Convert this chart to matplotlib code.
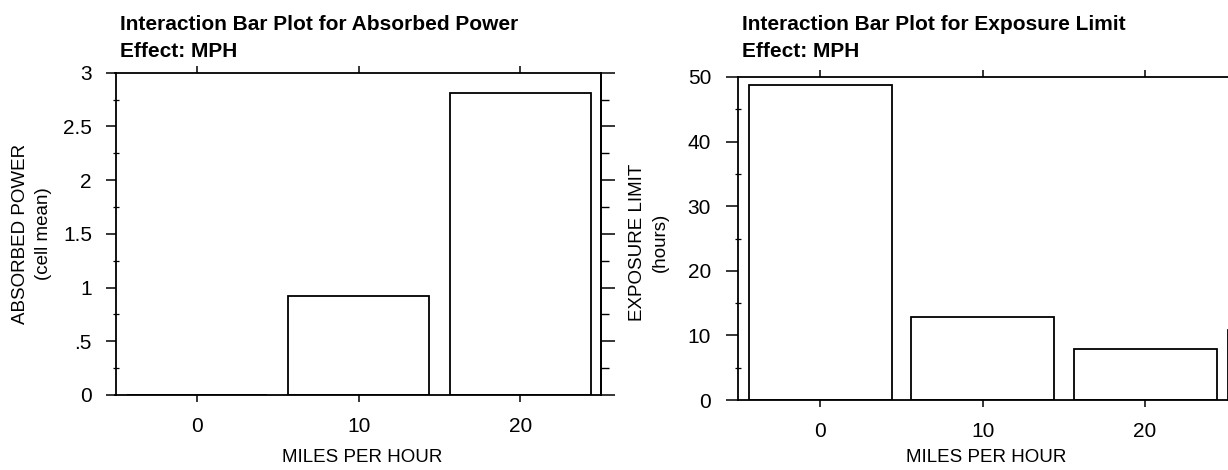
import matplotlib
matplotlib.use("Agg")
import matplotlib.pyplot as plt
from matplotlib import font_manager
from matplotlib.font_manager import FontProperties
from matplotlib.ticker import MultipleLocator, FuncFormatter

# Cell means by speed
mph = [0, 10, 20]
absorbed_power = [0.0, 0.92, 2.81]
exposure_limit = [48.8, 12.9, 7.9]
x_ticks = [0, 10, 20]

left_title = "Interaction Bar Plot for Absorbed Power"
right_title = "Interaction Bar Plot for Exposure Limit"
effect_text = "Effect: MPH"
x_label = "MILES PER HOUR"
left_ylabel = ["ABSORBED POWER", "(cell mean)"]
right_ylabel = ["EXPOSURE LIMIT", "(hours)"]


def available(name):
    try:
        font_manager.findfont(FontProperties(family=name), fallback_to_default=False)
        return True
    except Exception:
        return False


BASE = "Liberation Sans" if available("Liberation Sans") else "DejaVu Sans"
NARROW = "Liberation Sans Narrow" if available("Liberation Sans Narrow") else BASE
LABEL_SIZE = 15 if NARROW != BASE else 13.5

plt.rcParams["font.family"] = [BASE, "DejaVu Sans"]

W, H = 1228, 470
fig = plt.figure(figsize=(W / 100, H / 100), dpi=100)
fig.patch.set_facecolor("white")


def axes_px(left, top, right, bottom):
    return fig.add_axes([left / W, 1 - bottom / H, (right - left) / W, (bottom - top) / H])


def fig_xy(x, y):
    return x / W, 1 - y / H


def point_fmt(v, _pos):
    s = f"{v:g}"
    if s.startswith("0."):
        s = s[1:]
    return s


LW = 1.3


def style_panel(ax, xlim, ymax, major, minor):
    ax.set_xlim(*xlim)
    ax.set_ylim(0, ymax)
    for sp in ax.spines.values():
        sp.set_linewidth(LW)
        sp.set_color("black")
    ax.set_xticks(x_ticks)
    ax.tick_params(axis="x", which="major", direction="out", length=5, width=1.1,
                   top=True, bottom=True, labeltop=False, labelsize=15, pad=10.5)
    ax.yaxis.set_major_locator(MultipleLocator(major))
    ax.yaxis.set_minor_locator(MultipleLocator(minor))
    ax.yaxis.set_major_formatter(FuncFormatter(point_fmt))
    ax.tick_params(axis="y", which="major", direction="out", length=7, width=1.1,
                   left=True, right=False, labelsize=15, pad=10)
    ax.tick_params(axis="y", which="minor", direction="inout", length=4, width=0.9,
                   left=True, right=False)


# Left panel: absorbed power
ax1 = axes_px(115.5, 72.7, 601, 395)
ax1.bar(mph, absorbed_power, width=8.7, facecolor="white", edgecolor="black", linewidth=LW)
style_panel(ax1, (-5.06, 25.0), 3, 0.5, 0.25)

# outward ticks on the right edge of the left panel
ax1r = ax1.twinx()
ax1r.set_ylim(0, 3)
ax1r.yaxis.set_major_locator(MultipleLocator(0.5))
ax1r.yaxis.set_minor_locator(MultipleLocator(0.25))
ax1r.tick_params(axis="y", which="major", direction="out", length=10, width=1.1, labelright=False)
ax1r.tick_params(axis="y", which="minor", direction="out", length=6, width=1.0)
for name, sp in ax1r.spines.items():
    sp.set_visible(name == "right")
    sp.set_linewidth(LW)

# Right panel: exposure limit
ax2 = axes_px(737.5, 77, 1228, 400)
ax2.bar(mph, exposure_limit, width=8.8, facecolor="white", edgecolor="black", linewidth=LW)
style_panel(ax2, (-5.08, 25.1), 50, 10, 5)
ax2.tick_params(axis="y", which="major", length=9)
ax2.spines["right"].set_bounds(0, 10.8)

# Titles
for x0, title in [(120, left_title), (742, right_title)]:
    fig.text(*fig_xy(x0, 24), title, ha="left", va="center", fontsize=15, fontweight="bold")
    fig.text(*fig_xy(x0, 52), effect_text, ha="left", va="center", fontsize=15, fontweight="bold")

# Axis labels
for xc in (362, 986):
    fig.text(*fig_xy(xc, 458), x_label, ha="center", va="center",
             fontsize=LABEL_SIZE, family=NARROW)

for (x_a, x_b, yc), lines in [((21, 44, 234), left_ylabel), ((638, 660, 242), right_ylabel)]:
    fig.text(*fig_xy(x_a, yc), lines[0], rotation=90, ha="center", va="center",
             fontsize=LABEL_SIZE, family=NARROW)
    fig.text(*fig_xy(x_b, yc), lines[1], rotation=90, ha="center", va="center",
             fontsize=LABEL_SIZE, family=NARROW)

fig.savefig("out.png", dpi=100, facecolor="white")
